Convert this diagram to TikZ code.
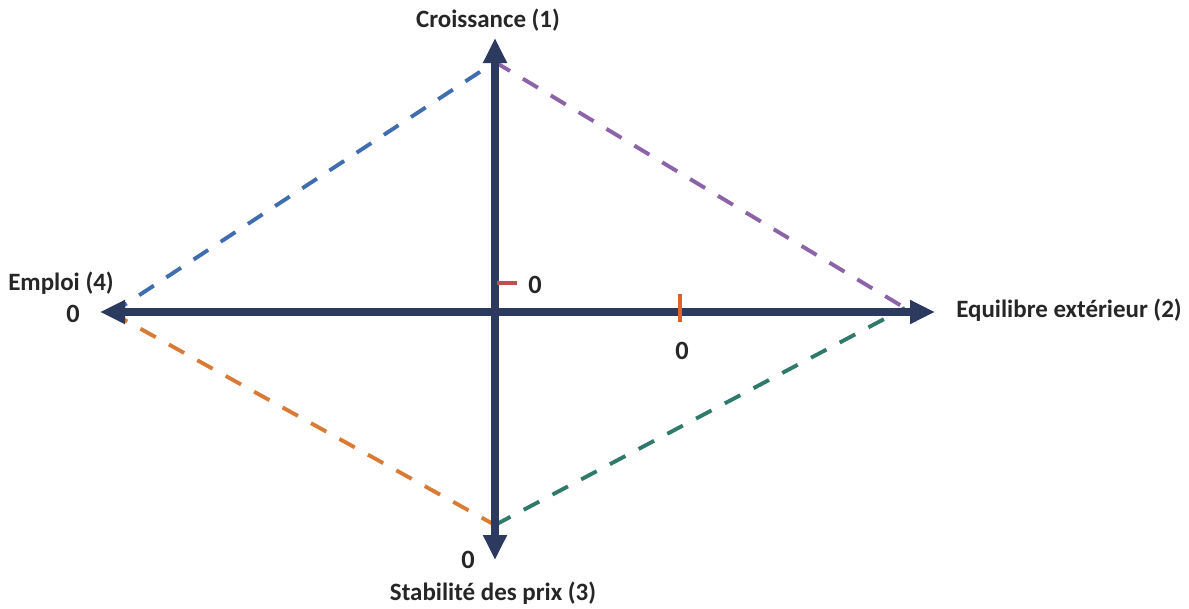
\documentclass[tikz,border=0pt]{standalone}
\usepackage{fontspec}
\setmainfont{Carlito}
\usetikzlibrary{arrows.meta}

\definecolor{axisblue}{HTML}{2B3A5E}
\definecolor{dashblue}{HTML}{3E6DB0}
\definecolor{dashpurple}{HTML}{8B63A6}
\definecolor{dashteal}{HTML}{2F7A6A}
\definecolor{dashorange}{HTML}{D97B35}
\definecolor{tickred}{HTML}{C0504D}
\definecolor{labelgrey}{HTML}{262626}

\begin{document}
\begin{tikzpicture}[x=.2mm,y=-.2mm,font=\bfseries\fontsize{14.2}{16}\selectfont,
    axe/.style={line width=4.5pt,color=axisblue,
      {Triangle[length=5mm,width=4.5mm]}-{Triangle[length=5mm,width=4.5mm]}},
    lien/.style={line width=2.2pt,dash pattern=on 3.5mm off 3mm},
    zero/.style={font=\bfseries\fontsize{15}{16}\selectfont,text=labelgrey},
    titre/.style={text=labelgrey}]
  \useasboundingbox (0,0) rectangle (1189,608);

  % axis ends and diamond corners
  \coordinate (top) at (495,38);
  \coordinate (bottom) at (495,560);
  \coordinate (left) at (100,312);
  \coordinate (right) at (935,312);
  \coordinate (v1) at (495,62);
  \coordinate (v2) at (905,308);
  \coordinate (v3) at (495,525);
  \coordinate (v4) at (112,313);

  % dashed diamond
  \draw[lien,dashblue] (v4) -- (v1);
  \draw[lien,dashpurple] (v1) -- (v2);
  \draw[lien,dashteal] (v3) -- (v2);
  \draw[lien,dashorange] (v4) -- (v3);

  % axes
  \draw[axe] (bottom) -- (top);
  \draw[axe] (left) -- (right);

  % ticks
  \coordinate (t1a) at (497,283);
  \coordinate (t1b) at (517,283);
  \draw[tickred,line width=2.5pt] (t1a) -- (t1b);
  \coordinate (t2a) at (680,294);
  \coordinate (t2b) at (680,322);
  \draw[dashorange!80!red,line width=1.8pt] (t2a) -- (t2b);

  % labels
  \node[titre] (croissance) at (488,20) {Croissance (1)};
  \node[titre] (equilibre) at (1069,310) {Equilibre extérieur (2)};
  \node[titre] (stabilite) at (493,593) {Stabilité des prix (3)};
  \node[titre] (emploi) at (61,283) {Emploi (4)};

  \node[zero] (z1) at (535,285) {0};
  \node[zero] (z2) at (682,351) {0};
  \node[zero] (z3) at (468,560) {0};
  \node[zero] (z4) at (73,314) {0};
\end{tikzpicture}
\end{document}
